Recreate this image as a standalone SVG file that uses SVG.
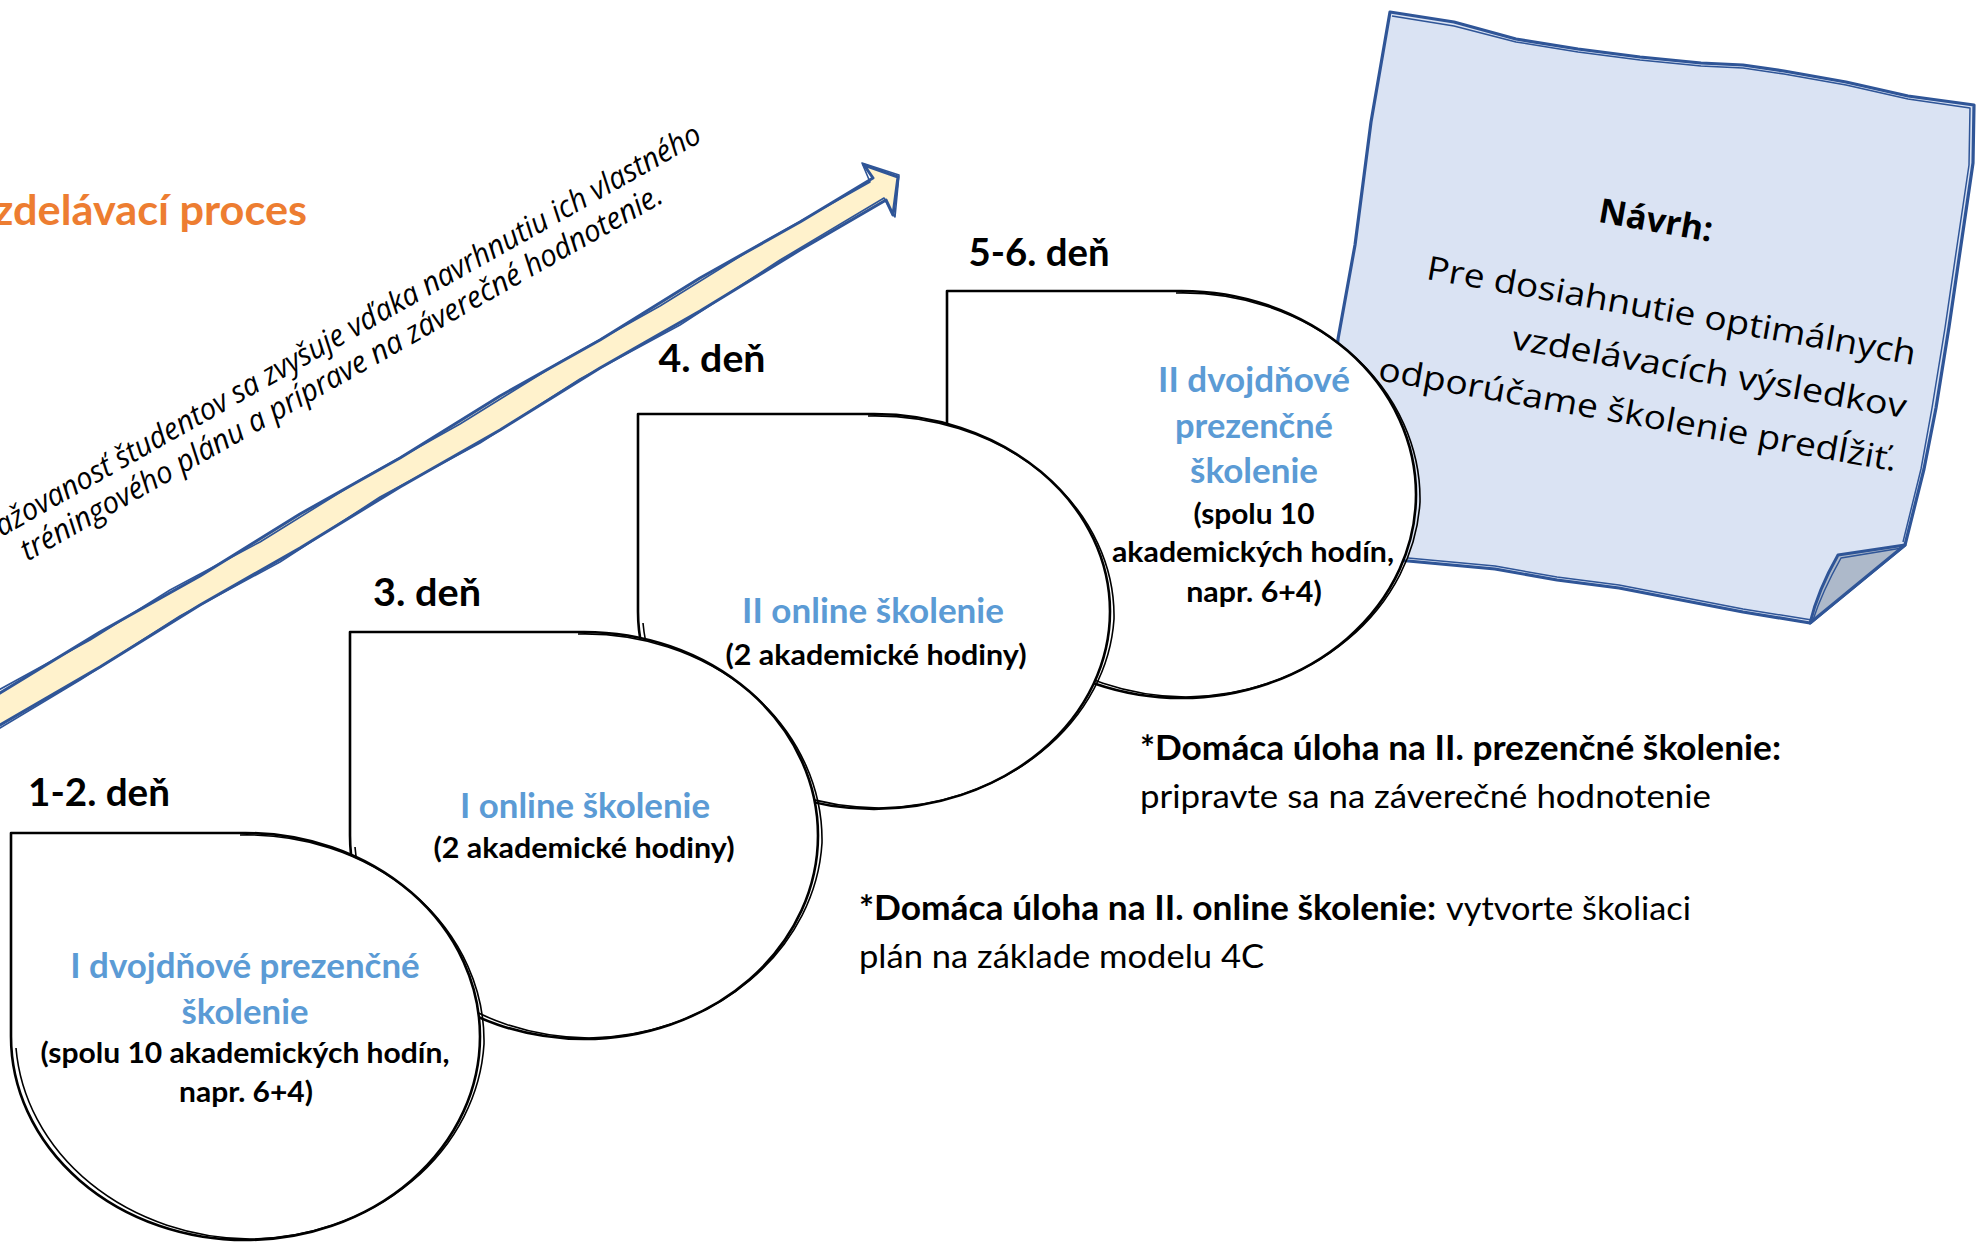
<svg xmlns="http://www.w3.org/2000/svg" width="1977" height="1248" viewBox="0 0 1977 1248">
  <style>
    .cal{font-family:Lato,"Open Sans","Liberation Sans",sans-serif}
    .b{font-weight:700}
    .day{font-size:38px;font-weight:700;fill:#000}
    .blue{font-size:33.5px;font-weight:700;fill:#5B9BD5}
    .sub{font-size:29px;font-weight:700;fill:#000}
    .foot{font-size:33.5px;fill:#000}
    .seg{font-family:"Open Sans","Noto Sans",sans-serif;fill:#000}
    .drop{fill:#fff;stroke:#000;stroke-width:2.6;stroke-linejoin:round}
    .sketch{fill:none;stroke:#000;stroke-width:1.6}
    .note-body{fill:#DAE3F3;stroke:#2F5597;stroke-width:3.2;stroke-linejoin:round}
    .note-sketch{fill:none;stroke:#2F5597;stroke-width:1.5;stroke-linejoin:round}
    .arrow-body{fill:#FFF2CC;stroke:#2F5597;stroke-width:3;stroke-linejoin:round}
    .arrow-sketch{fill:none;stroke:#2F5597;stroke-width:1.6;stroke-linejoin:round}
  </style>
  <rect width="1977" height="1248" fill="#fff"/>

  <!-- heading -->
  <g id="title">
    <text class="cal b" x="-6.5" y="225" font-size="41.5" fill="#ED7D31" textLength="313.5" lengthAdjust="spacingAndGlyphs">zdelávací proces</text>
  </g>

  <!-- rising progress arrow with its caption -->
  <g id="connectors">
    <g id="progress-arrow">
      <path class="arrow-body" d="M-5,696 L100,632 L200,576 L300,514 L400,458 L500,396 L600,340 L700,278 L800,222 L873,178 L864,165 L898,177 L893,215 L886,200 L800,250 L700,311 L600,368 L500,430 L400,487 L300,548 L200,605 L100,667 L-5,728 Z"/>
      <path class="arrow-sketch" d="M-5,692 L90,640 L170,590 L260,542 L360,480 L460,424 L560,362 L660,306 L760,244 L870,182 L862,163 L899,175 L895,217 L884,198 L780,260 L680,325 L580,379 L480,443 L380,497 L280,562 L180,616 L80,680 L-5,731"/>
    </g>
  </g>
  <g id="arrow-caption" transform="translate(6.9,534) rotate(-29.45)">
    <text class="seg" x="-6" y="0" font-size="30.5" font-style="italic" textLength="806" lengthAdjust="spacingAndGlyphs">ažovanosť študentov sa zvyšuje vďaka navrhnutiu ich vlastného</text>
    <text class="seg" x="4.5" y="34" font-size="30.5" font-style="italic" textLength="732" lengthAdjust="spacingAndGlyphs">tréningového plánu a príprave na záverečné hodnotenie.</text>
  </g>

  <!-- sticky note with folded corner -->
  <g id="note">
    <path class="note-body" d="M1390,12 L1454,22 L1516,39 L1578,49 L1640,57 L1701,63 L1743,65 L1784,71 L1846,82 L1908,96 L1974,105 L1973,163 L1961,245 L1949,327 L1936,408 L1924,469 L1905,545 L1810,623 L1743,612 L1681,600 L1619,588 L1557,580 L1495,569 L1408,561 L1320,555 L1338,339 L1355,245 L1371,122 Z"/>
    <path class="note-sketch" d="M1392,16 L1454,26 L1516,42 L1578,52 L1640,60 L1701,66 L1743,68 L1784,74 L1846,85 L1908,99 L1970,108 L1969,165 L1957,246 L1945,328 L1932,408 L1921,469 L1903,542"/>
    <path class="note-sketch" d="M1812,620 L1743,609 L1681,597 L1619,585 L1557,577 L1495,566 L1408,558"/>
    <path d="M1905,545 L1838,555 Q1818,590 1810,623 Z" fill="#ADB9CA" stroke="#2F5597" stroke-width="3" stroke-linejoin="round"/>
    <path class="note-sketch" d="M1902,548 L1841,558 Q1822,592 1813,620"/>
    <g transform="translate(1656,220) rotate(10)">
      <text class="seg" x="0" y="12" font-size="34" font-weight="700" text-anchor="middle">Návrh:</text>
      <text class="seg" x="279" y="98" font-size="33" text-anchor="end" textLength="496" lengthAdjust="spacingAndGlyphs">Pre dosiahnutie optimálnych</text>
      <text class="seg" x="279" y="152" font-size="33" text-anchor="end" textLength="400" lengthAdjust="spacingAndGlyphs">vzdelávacích výsledkov</text>
      <text class="seg" x="279" y="206" font-size="33" text-anchor="end" textLength="526" lengthAdjust="spacingAndGlyphs">odporúčame školenie predĺžiť.</text>
    </g>
  </g>

  <!-- day 5-6 -->
  <g id="day-5-6">
    <text class="cal day" x="968.5" y="266" textLength="141" lengthAdjust="spacingAndGlyphs">5-6. deň</text>
    <path class="drop" d="M947,291 H1181.5 A234.5,203.5 0 0 1 1416,494.5 A234.5,203.5 0 0 1 1181.5,698 A234.5,203.5 0 0 1 947,494.5 Z"/>
    <path class="sketch" d="M1176,293 A237,206 0 0 1 1420,502 A237,206 0 0 1 1186,697 A237,206 0 0 1 952,506"/>
    <g class="cal" text-anchor="middle">
      <text class="blue" x="1254" y="392" textLength="192" lengthAdjust="spacingAndGlyphs">II dvojdňové</text>
      <text class="blue" x="1254" y="437.5" textLength="158" lengthAdjust="spacingAndGlyphs">prezenčné</text>
      <text class="blue" x="1254" y="483" textLength="128" lengthAdjust="spacingAndGlyphs">školenie</text>
      <text class="sub" x="1254" y="524" textLength="121" lengthAdjust="spacingAndGlyphs">(spolu 10</text>
      <text class="sub" x="1253" y="562" textLength="282" lengthAdjust="spacingAndGlyphs">akademických hodín,</text>
      <text class="sub" x="1254" y="601.5" textLength="135.6" lengthAdjust="spacingAndGlyphs">napr. 6+4)</text>
    </g>
  </g>

  <!-- day 4 -->
  <g id="day-4">
    <text class="cal day" x="658.5" y="372" textLength="107" lengthAdjust="spacingAndGlyphs">4. deň</text>
    <path class="drop" d="M638,414 H874 A236,197.5 0 0 1 1110,611.5 A236,197.5 0 0 1 874,809 A236,197.5 0 0 1 638,611.5 Z"/>
    <path class="sketch" d="M868,416 A239,200 0 0 1 1114,619 A239,200 0 0 1 879,808 A239,200 0 0 1 643,623"/>
    <g class="cal" text-anchor="middle">
      <text class="blue" x="873" y="623" textLength="262" lengthAdjust="spacingAndGlyphs">II online školenie</text>
      <text class="sub" x="876" y="665" textLength="301" lengthAdjust="spacingAndGlyphs">(2 akademické hodiny)</text>
    </g>
  </g>

  <!-- day 3 -->
  <g id="day-3">
    <text class="cal day" x="373" y="606" textLength="108" lengthAdjust="spacingAndGlyphs">3. deň</text>
    <path class="drop" d="M350,632 H584 A234,203.5 0 0 1 818,835.5 A234,203.5 0 0 1 584,1039 A234,203.5 0 0 1 350,835.5 Z"/>
    <path class="sketch" d="M578,634 A237,206 0 0 1 822,843 A237,206 0 0 1 589,1038 A237,206 0 0 1 355,847"/>
    <g class="cal" text-anchor="middle">
      <text class="blue" x="585" y="818" textLength="250" lengthAdjust="spacingAndGlyphs">I online školenie</text>
      <text class="sub" x="584" y="858" textLength="301" lengthAdjust="spacingAndGlyphs">(2 akademické hodiny)</text>
    </g>
  </g>

  <!-- days 1-2 -->
  <g id="day-1-2">
    <text class="cal day" x="28" y="806" textLength="142" lengthAdjust="spacingAndGlyphs">1-2. deň</text>
    <path class="drop" d="M11,833 H245.5 A234.5,203.5 0 0 1 480,1036.5 A234.5,203.5 0 0 1 245.5,1240 A234.5,203.5 0 0 1 11,1036.5 Z"/>
    <path class="sketch" d="M240,835 A237,206 0 0 1 484,1044 A237,206 0 0 1 250,1239 A237,206 0 0 1 16,1048"/>
    <g class="cal" text-anchor="middle">
      <text class="blue" x="245" y="978" textLength="349.5" lengthAdjust="spacingAndGlyphs">I dvojdňové prezenčné</text>
      <text class="blue" x="245" y="1023.5" textLength="127" lengthAdjust="spacingAndGlyphs">školenie</text>
      <text class="sub" x="245" y="1063" textLength="409" lengthAdjust="spacingAndGlyphs">(spolu 10 akademických hodín,</text>
      <text class="sub" x="246" y="1102" textLength="134" lengthAdjust="spacingAndGlyphs">napr. 6+4)</text>
    </g>
  </g>

  <!-- homework notes -->
  <g id="homework-2">
    <text class="cal foot b" x="1140" y="760" textLength="641" lengthAdjust="spacingAndGlyphs">*Domáca úloha na II. prezenčné školenie:</text>
    <text class="cal foot" x="1140" y="808" textLength="571" lengthAdjust="spacingAndGlyphs">pripravte sa na záverečné hodnotenie</text>
  </g>
  <g id="homework-1">
    <text class="cal foot b" x="859" y="920" textLength="577" lengthAdjust="spacingAndGlyphs">*Domáca úloha na II. online školenie:</text>
    <text class="cal foot" x="1446" y="920" textLength="245" lengthAdjust="spacingAndGlyphs">vytvorte školiaci</text>
    <text class="cal foot" x="859" y="968" textLength="405" lengthAdjust="spacingAndGlyphs">plán na základe modelu 4C</text>
  </g>
</svg>
